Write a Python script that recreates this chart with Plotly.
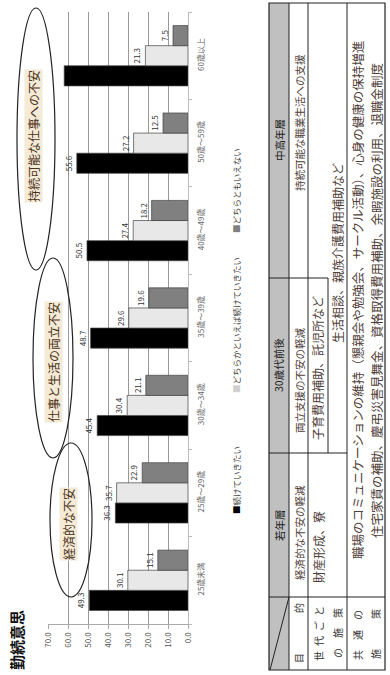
import plotly.graph_objects as go

# ---------------- data ----------------
categories = ["25歳未満", "25歳～29歳", "30歳～34歳", "35歳～39歳", "40歳～49歳", "50歳～59歳", "60歳以上"]
series_names = ["続けていきたい", "どちらかといえば続けていきたい", "どちらともいえない"]
keep = [49.3, 36.3, 45.4, 48.7, 50.5, 55.6, 61.9]
rather_keep = [30.1, 35.7, 30.4, 29.6, 27.4, 27.2, 21.3]
neutral = [15.1, 22.9, 21.1, 19.6, 18.2, 12.5, 7.5]
keep_shown = [True, True, True, True, True, True, False]
value_ticks = [0, 10, 20, 30, 40, 50, 60, 70]

title_text = "勤続意思"
bubble_texts = ["持続可能な仕事への不安", "仕事と生活の両立不安", "経済的な不安"]
table_headers = ["若年層", "30歳代前後", "中高年層"]
table_purpose = ["経済的な不安の軽減", "両立支援の不安の軽減", "持続可能な職業生活への支援"]
table_gen_1 = ["財産形成、寮", "子育費用補助、託児所など"]
table_gen_2 = "生活相談、親族介護費用補助など"
table_common = ["職場のコミュニケーションの維持（懇親会や勉強会、サークル活動）、心身の健康の保持増進",
                "住宅家賃の補助、慶弔災害見舞金、資格取得費用補助、余暇施設の利用、退職金制度"]

# ---------------- style ----------------
FONT = "Noto Sans CJK JP"
colors = ["#000000", "#e8e8e8", "#808080"]
L, R, T, B = 48, 188, 12, 624  # plot area in page px


def X(px):
    return (px - L) / (R - L)


def Y(py):
    return (B - py) / (B - T)


fig = go.Figure()
for name, vals, col in zip(series_names, [keep, rather_keep, neutral], colors):
    if vals is keep:
        txt = [f"{v:.1f}" if s else "" for v, s in zip(vals, keep_shown)]
    else:
        txt = [f"{v:.1f}" for v in vals]
    fig.add_trace(go.Bar(
        y=categories, x=vals, name=name, orientation="h",
        marker=dict(color=col, line=dict(color="#444", width=0.7)),
        text=txt, textposition="outside", textangle=-90, constraintext="none",
        textfont=dict(size=8, color="#333", family=FONT),
        cliponaxis=False, showlegend=False,
    ))

fig.update_layout(
    width=390, height=675,
    margin=dict(l=L, r=390 - R, t=T, b=675 - B),
    paper_bgcolor="white", plot_bgcolor="white",
    barmode="group", bargap=0.31, bargroupgap=0,
    font=dict(family=FONT, color="#333"),
    xaxis=dict(range=[70, 0], tickvals=value_ticks, tickformat=".1f", tickangle=-90,
               tickfont=dict(size=8, color="#555"), showgrid=True, gridcolor="#999",
               gridwidth=1, showline=True, linecolor="#aaa", ticks="outside",
               ticklen=4, tickcolor="#aaa", zeroline=False),
    yaxis=dict(type="category", categoryorder="array", categoryarray=categories,
               side="right", tickangle=-90, tickfont=dict(size=8, color="#666"),
               showline=True, linecolor="#bbb", ticks="outside", tickson="boundaries",
               ticklen=3, tickcolor="#bbb", showgrid=False, ticklabelstandoff=5),
)

ann = []
shapes = []


def text(t, x, y, size, color="#333", bold=False, bg=None):
    d = dict(text=(f"<b>{t}</b>" if bold else t), x=X(x), y=Y(y), xref="paper", yref="paper",
             xanchor="center", yanchor="middle", textangle=-90, showarrow=False,
             font=dict(size=size, color=color, family=FONT))
    if bg:
        d["bgcolor"] = bg
        d["borderpad"] = 0
    ann.append(d)


def line(x0, y0, x1, y1, color="#222", width=1):
    shapes.append(dict(type="line", xref="paper", yref="paper", x0=X(x0), y0=Y(y0),
                       x1=X(x1), y1=Y(y1), line=dict(color=color, width=width)))


# title
text(title_text, 16, 640, 15, color="#111", bold=True)

# ellipses with labels
ellipses = [(17, 8, 55, 270, 34, 136), (33, 258, 73, 458, 53, 362), (50, 443, 92, 597, 68, 524)]
for (x0, y0, x1, y1, tx, ty), t in zip(ellipses, bubble_texts):
    shapes.append(dict(type="circle", xref="paper", yref="paper", x0=X(x0), y0=Y(y1),
                       x1=X(x1), y1=Y(y0), line=dict(color="#222", width=1.2)))
    text(t, tx, ty, 12, color="#4a3320", bg="#f4ead6")

# legend (rotated)
legend_pos = [480, 325, 190]
for name, col, yy in zip(series_names, colors, legend_pos):
    sq = f"<span style='color:{col if col != '#e8e8e8' else '#cfcfcf'}'>■</span>"
    text(sq + name, 236, yy, 8.5, color="#444")

# table
TX = [269, 289, 308, 328, 347, 385]
TY = [3, 278, 453, 597, 670]
shapes.append(dict(type="rect", xref="paper", yref="paper", x0=X(TX[0]), y0=Y(TY[4]),
                   x1=X(TX[1]), y1=Y(TY[0]), fillcolor="#c0c0c0", line=dict(width=0),
                   layer="below"))
shapes.append(dict(type="rect", xref="paper", yref="paper", x0=X(TX[0]), y0=Y(TY[4]),
                   x1=X(TX[5]), y1=Y(TY[0]), line=dict(color="#222", width=1.2)))
for xx in (TX[1], TX[2], TX[4]):
    line(xx, TY[0], xx, TY[4])
line(TX[3], TY[1], TX[3], TY[2])
line(TX[0], TY[3], TX[5], TY[3])
line(TX[0], TY[2], TX[4], TY[2])
line(TX[0], TY[1], TX[3], TY[1])
line(TX[0] + 1, TY[4], TX[1], TY[3])

hdr_y = [525, 365, 140]
for t, yy in zip(table_headers, hdr_y):
    text(t, 279, yy, 10.5, color="#222")
# row labels
text("目　　　　的", 298, 633, 10, color="#333")
text("世\u2002代\u2002ご\u2002と", 318, 634, 10, color="#333")
text("の　施　策", 337, 633, 10, color="#333")
text("共　通　の", 357, 635, 10, color="#333")
text("施　　　策", 375, 634, 10, color="#333")

body = "#4e4038"
for t, yy in zip(table_purpose, [533, 380, 123]):
    text(t, 299, yy, 10.5, color=body)
for t, yy in zip(table_gen_1, [547, 368]):
    text(t, 318, yy, 12, color=body)
text(table_gen_2, 337, 253, 12, color=body)
text(table_common[0], 357, 300, 12.5, color=body)
text(table_common[1], 376, 301, 12.5, color=body)

fig.update_layout(annotations=ann, shapes=shapes)
fig.write_html("out.html")
